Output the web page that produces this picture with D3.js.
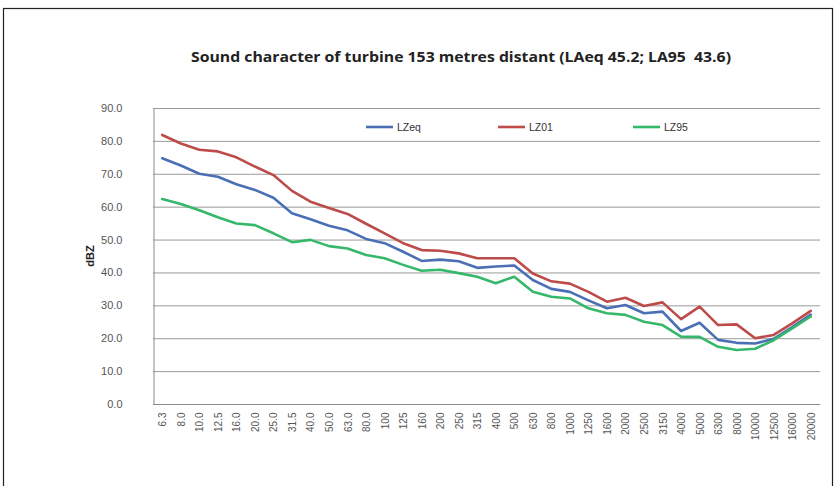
<!DOCTYPE html>
<html><head><meta charset="utf-8">
<script src="https://cdn.jsdelivr.net/npm/d3@7"></script>
<style>body{margin:0;background:#fff}svg{display:block}</style>
</head><body>
<script>
const categories = ["6.3","8.0","10.0","12.5","16.0","20.0","25.0","31.5","40.0","50.0","63.0","80.0","100","125","160","200","250","315","400","500","630","800","1000","1250","1600","2000","2500","3150","4000","5000","6300","8000","10000","12500","16000","20000"];
const LZeq = [74.7,72.5,70.0,69.1,66.8,65.1,62.7,58.0,56.2,54.2,52.8,50.2,48.9,46.3,43.5,43.9,43.4,41.4,41.8,42.1,37.7,35.0,34.1,31.5,29.1,30.1,27.6,28.1,22.2,24.7,19.5,18.6,18.4,19.8,23.4,27.2];
const LZ01 = [81.8,79.2,77.3,76.8,75.0,72.2,69.6,64.8,61.5,59.6,57.8,54.8,51.9,48.9,46.8,46.6,45.8,44.3,44.3,44.3,39.7,37.3,36.6,34.1,31.1,32.3,29.8,30.9,25.8,29.6,24.0,24.2,20.0,21.0,24.5,28.3];
const LZ95 = [62.3,60.8,58.9,56.8,54.9,54.4,51.9,49.2,49.9,48.0,47.3,45.3,44.3,42.3,40.5,40.8,39.8,38.7,36.7,38.7,34.1,32.6,32.1,29.1,27.6,27.1,25.0,24.0,20.5,20.4,17.4,16.4,16.8,19.4,23.0,26.6];
const seriesNames = ["LZeq","LZ01","LZ95"];
const yTicks = [0,10,20,30,40,50,60,70,80,90];
const title = "Sound character of turbine 153 metres distant (LAeq 45.2; LA95  43.6)";
const yTitle = "dBZ";

const W = 836, H = 486;
const colors = {LZeq:"#4A6FB5", LZ01:"#BC4B49", LZ95:"#35B86A"};
const seriesData = {LZeq, LZ01, LZ95};
const m = {left:153, right:820, top:108, bottom:404};

const svg = d3.select("body").append("svg").attr("width",W).attr("height",H);
svg.append("rect").attr("x",3.5).attr("y",8.5).attr("width",829).attr("height",490)
  .attr("fill","#fff").attr("stroke","#222").attr("stroke-width",1.2);

const x = d3.scalePoint().domain(categories).range([m.left, m.right]).padding(0.5);
const y = d3.scaleLinear().domain([0,90]).range([m.bottom, m.top]);

// gridlines
svg.append("g").selectAll("line").data(yTicks.filter(d=>d>0)).join("line")
  .attr("x1",m.left).attr("x2",m.right)
  .attr("y1",d=>y(d)+0.5).attr("y2",d=>y(d)+0.5)
  .attr("stroke","#9a9a9a").attr("stroke-width",1);

// y axis
const yAxis = d3.axisLeft(y).tickValues(yTicks).tickFormat(d3.format(".1f")).tickSize(0).tickPadding(31);
const ga = svg.append("g").attr("transform",`translate(${m.left+0.5},0)`).call(yAxis);
ga.select(".domain").attr("stroke","#8a8a8a");
ga.selectAll("text").attr("font-family","'Liberation Sans', Arial, sans-serif").attr("font-size",11).attr("fill","#555");

// x axis
const xAxis = d3.axisBottom(x).tickSize(0).tickPadding(0);
const gx = svg.append("g").attr("transform",`translate(0,${m.bottom+0.5})`).call(xAxis);
gx.select(".domain").attr("stroke","#8a8a8a").attr("d",`M${m.left},0H${m.right}`);
gx.selectAll("text").attr("font-family","'Liberation Sans', Arial, sans-serif").attr("font-size",10).attr("fill","#555")
  .attr("text-anchor","end").attr("transform","rotate(-90)").attr("x",-8).attr("y",0).attr("dy","0.35em");

// lines
const line = d3.line().x((d,i)=>x(categories[i])).y(d=>y(d)).curve(d3.curveLinear);
seriesNames.forEach(n=>{
  svg.append("path").datum(seriesData[n]).attr("d",line).attr("fill","none")
    .attr("stroke",colors[n]).attr("stroke-width",2.6).attr("stroke-linejoin","round").attr("stroke-linecap","round");
});

// legend
const legX = [366, 498, 633];
seriesNames.forEach((n,i)=>{
  svg.append("line").attr("x1",legX[i]).attr("x2",legX[i]+27).attr("y1",127).attr("y2",127)
    .attr("stroke",colors[n]).attr("stroke-width",2.6);
  svg.append("text").attr("x",legX[i]+31).attr("y",127).attr("dy","0.35em")
    .attr("font-family","'Liberation Sans', Arial, sans-serif").attr("font-size",10.5).attr("fill","#333").text(n);
});

// title
svg.append("text").attr("x",461).attr("y",57).attr("dy","0.35em").attr("text-anchor","middle")
  .style("white-space","pre")
  .attr("textLength",540).attr("lengthAdjust","spacingAndGlyphs")
  .attr("font-family","'Open Sans', 'Liberation Sans', sans-serif").attr("font-weight","bold").attr("font-size",14)
  .attr("fill","#222").text(title);

// y title
svg.append("text").attr("transform",`translate(90,256) rotate(-90)`).attr("text-anchor","middle").attr("dy","0.35em")
  .attr("font-family","'Liberation Sans', Arial, sans-serif").attr("font-weight","bold").attr("font-size",11)
  .attr("fill","#222").text(yTitle);
</script>
</body></html>
